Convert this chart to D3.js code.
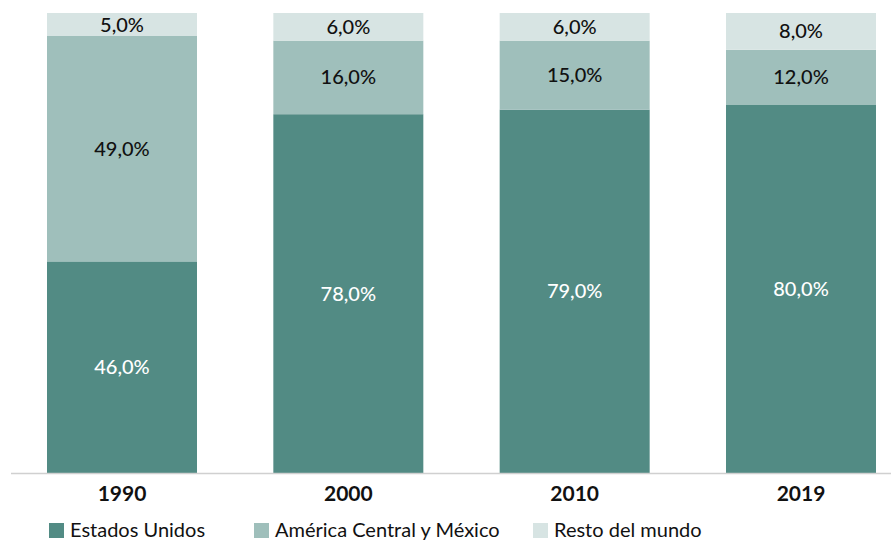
<!DOCTYPE html>
<html><head><meta charset="utf-8">
<script src="https://cdn.jsdelivr.net/npm/d3@7"></script>
<style>body{margin:0;background:#fff;} svg{display:block;font-family:Lato,sans-serif;}</style>
</head><body>
<svg id="c" width="891" height="541"></svg>
<script>
const years = ["1990","2000","2010","2019"];
const seriesNames = ["Estados Unidos","América Central y México","Resto del mundo"];
const estadosUnidos = [46,78,79,80];
const americaCentral = [49,16,15,12];
const restoMundo = [5,6,6,8];
const colors = ["#528b84","#9fbfbb","#d7e4e3"];
const labelColors = ["#ffffff","#111111","#111111"];

const rows = years.map((y,i)=>({year:y, s0:estadosUnidos[i], s1:americaCentral[i], s2:restoMundo[i]}));
const stack = d3.stack().keys(["s0","s1","s2"])(rows);

const svg = d3.select("#c");
const x = d3.scaleBand().domain(years).range([47,876]).paddingInner(0.3373).paddingOuter(0);
const y = d3.scaleLinear().domain([0,100]).range([473,13]);

const g = svg.append("g");
stack.forEach((layer,li)=>{
  g.selectAll(null).data(layer).enter().append("rect")
    .attr("x",d=>x(d.data.year)).attr("width",x.bandwidth())
    .attr("y",d=>y(d[1])).attr("height",d=>y(d[0])-y(d[1]))
    .attr("fill",colors[li]);
  g.selectAll(null).data(layer).enter().append("text")
    .attr("x",d=>x(d.data.year)+x.bandwidth()/2)
    .attr("y",d=>(y(d[0])+y(d[1]))/2)
    .attr("dy","0.35em").attr("text-anchor","middle")
    .attr("font-size",20).attr("font-weight",500).attr("fill",labelColors[li])
    .text(d=>(d[1]-d[0]).toFixed(1).replace(".",",")+"%");
});

// axis
svg.append("line").attr("x1",11).attr("x2",891).attr("y1",473.5).attr("y2",473.5)
  .attr("stroke","#d0d0d0").attr("stroke-width",1.5);
const xAxis = d3.axisBottom(x).tickSize(0).tickPadding(0);
const ag = svg.append("g").attr("transform","translate(0,473)").call(xAxis);
ag.select(".domain").remove();
ag.selectAll("text").attr("font-size",21).attr("font-weight","700").attr("fill","#111")
  .attr("font-family","Lato,sans-serif").attr("dy","0").attr("y",28);

// legend
const legX = [49,254,533];
const lg = svg.append("g");
seriesNames.forEach((n,i)=>{
  lg.append("rect").attr("x",legX[i]).attr("y",523).attr("width",15).attr("height",15).attr("fill",colors[i]);
  lg.append("text").attr("x",legX[i]+21).attr("y",537).attr("font-size",20).attr("fill","#111").text(n);
});
</script>
</body></html>
